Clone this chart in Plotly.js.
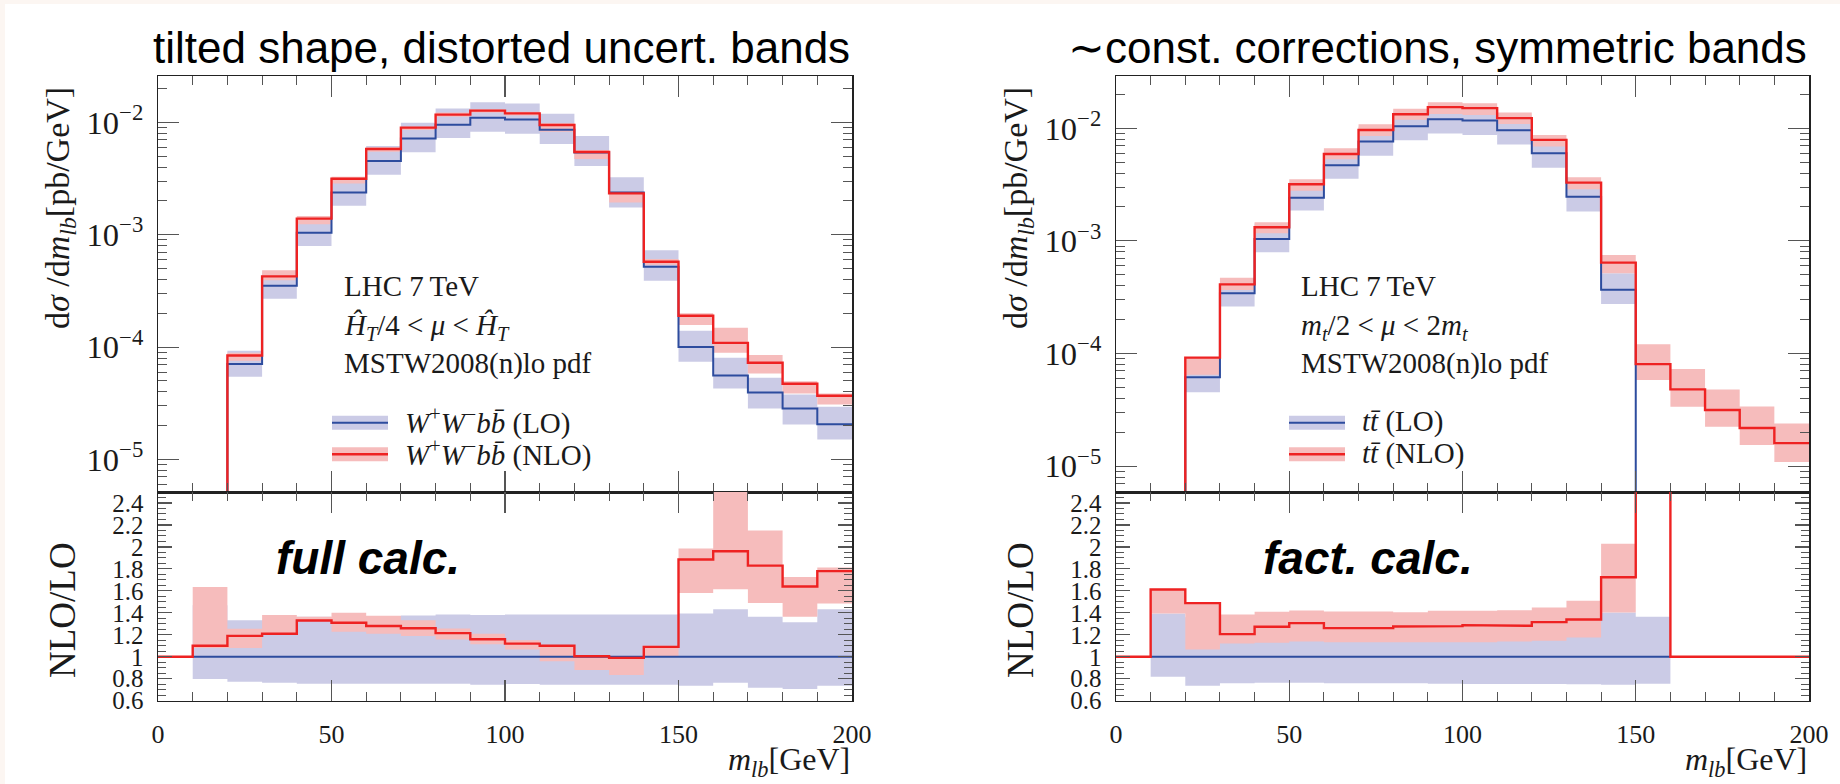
<!DOCTYPE html>
<html>
<head>
<meta charset="utf-8">
<script src="https://cdn.plot.ly/plotly-3.0.1.min.js"></script>
<style>
  html, body { margin: 0; padding: 0; background: #fcf6f2; }
  #sheet { position: absolute; left: 5px; top: 4px; width: 1835px; height: 780px; background: #ffffff; }
  #chart { position: absolute; left: 0; top: 0; width: 1840px; height: 784px; }
</style>
</head>
<body>
<div id="sheet"></div>
<div id="chart"></div>
<script>
// m_lb bin edges [GeV]
const binEdges = [0,10,20,30,40,50,60,70,80,90,100,110,120,130,140,150,160,170,180,190,200];

// ---- W+W- b bbar, full calculation: dsigma/dm_lb [pb/GeV] ----
const wwbbLO      = [0, 2.5e-6, 7.06e-5, 3.52e-4, 1.04e-3, 2.38e-3, 4.53e-3, 7.16e-3, 9.53e-3, 1.10e-2, 1.06e-2, 8.6e-3, 5.4e-3, 2.38e-3, 5.19e-4, 1.0e-4, 5.6e-5, 3.95e-5, 2.84e-5, 2.06e-5];
const wwbbLOLow   = [null, null, 5.44e-5, 2.69e-4, 7.93e-4, 1.81e-3, 3.42e-3, 5.41e-3, 7.26e-3, 8.26e-3, 7.93e-3, 6.41e-3, 4.08e-3, 1.75e-3, 3.90e-4, 7.40e-5, 4.29e-5, 2.84e-5, 2.05e-5, 1.51e-5];
const wwbbLOHigh  = [null, null, 9.28e-5, 4.59e-4, 1.37e-3, 3.07e-3, 6.15e-3, 9.93e-3, 1.33e-2, 1.51e-2, 1.47e-2, 1.19e-2, 7.55e-3, 3.24e-3, 7.26e-4, 1.40e-4, 8.04e-5, 5.33e-5, 3.79e-5, 2.94e-5];
const wwbbNLO     = [0, 2.75e-6, 8.43e-5, 4.26e-4, 1.39e-3, 3.15e-3, 5.79e-3, 8.97e-3, 1.17e-2, 1.27e-2, 1.20e-2, 9.46e-3, 5.45e-3, 2.33e-3, 5.75e-4, 1.90e-4, 1.09e-4, 7.26e-5, 4.72e-5, 3.69e-5];
const wwbbNLOLow  = [null, null, 7.55e-5, 3.94e-4, 1.24e-3, 2.86e-3, 5.48e-3, 8.55e-3, 1.12e-2, 1.22e-2, 1.15e-2, 8.26e-3, 4.72e-3, 1.93e-3, 5.40e-4, 1.57e-4, 8.91e-5, 5.83e-5, 3.87e-5, 3.09e-5];
const wwbbNLOHigh = [null, null, 8.91e-5, 4.84e-4, 1.47e-3, 3.28e-3, 5.99e-3, 9.15e-3, 1.22e-2, 1.31e-2, 1.24e-2, 9.80e-3, 5.68e-3, 2.42e-3, 6.07e-4, 2.00e-4, 1.49e-4, 8.49e-5, 4.98e-5, 3.87e-5];

// NLO/LO for the full calculation
const wwbbRatioLO       = [null, 1,1,1,1,1,1,1,1,1,1,1,1,1,1,1,1,1,1,1];
const wwbbRatioLOLow    = [null, 0.797, 0.773, 0.764, 0.755, 0.755, 0.755, 0.755, 0.755, 0.745, 0.752, 0.745, 0.745, 0.745, 0.745, 0.736, 0.764, 0.718, 0.706, 0.736];
const wwbbRatioLOHigh   = [null, 1.47, 1.333, 1.333, 1.364, 1.36, 1.37, 1.376, 1.385, 1.38, 1.385, 1.385, 1.385, 1.385, 1.385, 1.394, 1.433, 1.364, 1.315, 1.433];
const wwbbRatioNLO      = [1, 1.10, 1.19, 1.21, 1.33, 1.31, 1.28, 1.26, 1.215, 1.16, 1.12, 1.10, 1.005, 0.99, 1.09, 1.885, 1.96, 1.83, 1.64, 1.78];
const wwbbRatioNLOLow   = [null, 1.08, 1.08, 1.21, 1.33, 1.227, 1.21, 1.188, 1.158, 1.115, 1.067, 0.96, 0.88, 0.833, 1.0, 1.58, 1.615, 1.49, 1.364, 1.485];
const wwbbRatioNLOHigh  = [null, 1.636, 1.255, 1.38, 1.364, 1.40, 1.373, 1.333, 1.258, 1.21, 1.15, 1.106, 1.015, 1.0, 1.10, 1.985, 2.7, 2.15, 1.727, 1.812];

// ---- t tbar, factorised calculation: dsigma/dm_lb [pb/GeV] ----
const ttLO      = [0, 3.0e-6, 6.14e-5, 3.42e-4, 1.04e-3, 2.42e-3, 4.69e-3, 7.62e-3, 1.04e-2, 1.20e-2, 1.17e-2, 9.60e-3, 6.0e-3, 2.47e-3, 3.69e-4, 2.0e-6, 0, 0, 0, 0];
const ttLOLow   = [null, null, 4.52e-5, 2.61e-4, 7.91e-4, 1.86e-3, 3.57e-3, 5.71e-3, 7.82e-3, 8.97e-3, 8.73e-3, 7.16e-3, 4.47e-3, 1.82e-3, 2.75e-4, null, null, null, null, null];
const ttLOHigh  = [null, null, 8.34e-5, 4.65e-4, 1.43e-3, 3.29e-3, 6.33e-3, 1.03e-2, 1.41e-2, 1.61e-2, 1.58e-2, 1.30e-2, 8.15e-3, 3.43e-3, 5.15e-4, null, null, null, null, null];
const ttNLO     = [0, 4.8e-6, 9.18e-5, 4.11e-4, 1.32e-3, 3.18e-3, 5.91e-3, 9.66e-3, 1.33e-2, 1.54e-2, 1.51e-2, 1.23e-2, 7.88e-3, 3.29e-3, 6.41e-4, 8.05e-5, 4.80e-5, 3.15e-5, 2.18e-5, 1.60e-5];
const ttNLOLow  = [null, null, 6.49e-5, 3.66e-4, 1.17e-3, 2.79e-3, 5.31e-3, 8.55e-3, 1.19e-2, 1.34e-2, 1.31e-2, 1.09e-2, 6.87e-3, 2.87e-3, 5.15e-4, 5.81e-5, 3.37e-5, 2.24e-5, 1.54e-5, 1.09e-5];
const ttNLOHigh = [null, null, 9.18e-5, 4.71e-4, 1.46e-3, 3.52e-3, 6.64e-3, 1.085e-2, 1.49e-2, 1.70e-2, 1.67e-2, 1.38e-2, 8.73e-3, 3.67e-3, 7.50e-4, 1.21e-4, 7.28e-5, 4.80e-5, 3.38e-5, 2.39e-5];

// NLO/LO for the factorised calculation
const ttRatioLO      = [null, 1,1,1,1,1,1,1,1,1,1,1,1,1,1,1, null, null, null, null];
const ttRatioLOLow   = [null, 0.818, 0.736, 0.758, 0.764, 0.764, 0.758, 0.758, 0.758, 0.755, 0.752, 0.752, 0.752, 0.750, 0.745, 0.755, null, null, null, null];
const ttRatioLOHigh  = [null, 1.394, 1.36, 1.36, 1.36, 1.36, 1.36, 1.36, 1.36, 1.36, 1.36, 1.36, 1.36, 1.36, 1.403, 1.364, null, null, null, null];
const ttRatioNLO     = [1, 1.612, 1.488, 1.206, 1.273, 1.306, 1.261, 1.261, 1.276, 1.279, 1.288, 1.282, 1.315, 1.339, 1.724, 40, 1, 1, 1, 1];
const ttRatioNLOLow  = [null, 1.394, 1.067, 1.121, 1.127, 1.139, 1.133, 1.133, 1.133, 1.133, 1.133, 1.139, 1.145, 1.176, 1.403, null, null, null, null, null];
const ttRatioNLOHigh = [null, 1.612, 1.488, 1.385, 1.409, 1.421, 1.412, 1.412, 1.406, 1.418, 1.418, 1.424, 1.448, 1.509, 2.03, null, null, null, null, null];

// Text
const panelTitles = ['tilted shape, distorted uncert. bands', '\u223Cconst. corrections, symmetric bands'];
const calcLabels  = ['full calc.', 'fact. calc.'];
const infoLines = [
  ['LHC 7\u2009TeV', '<i>\u0124</i><sub><i>T</i></sub>/4 &lt; <i>\u03BC</i> &lt; <i>\u0124</i><sub><i>T</i></sub>', 'MSTW2008(n)lo pdf'],
  ['LHC 7\u2009TeV', '<i>m</i><sub><i>t</i></sub>/2 &lt; <i>\u03BC</i> &lt; 2<i>m</i><sub><i>t</i></sub>', 'MSTW2008(n)lo pdf']
];
const legendNames = [
  ['<i>W</i><sup>+</sup><i>W</i><sup>\u2212</sup><i>b</i><i>b\u0304</i> (LO)', '<i>W</i><sup>+</sup><i>W</i><sup>\u2212</sup><i>b</i><i>b\u0304</i> (NLO)'],
  ['<i>t</i><i>t\u0304</i> (LO)', '<i>t</i><i>t\u0304</i> (NLO)']
];
const yTitleMain  = 'd<i>\u03C3</i> /d<i>m</i><sub><i>lb</i></sub>[pb/GeV]';
const yTitleRatio = 'NLO/LO';
const xTitle      = '<i>m</i><sub><i>lb</i></sub>[GeV]';

// Colours
const C = {
  loLine: '#2d4c9e', nloLine: '#ee2222',
  loBand: '#cbcbe6', nloBand: '#f6bcbc',
  frame: '#222222', tick: '#555555', text: '#1a1a1a'
};

// Figure geometry (paper fractions of the 1840x784 sheet)
const W = 1840, H = 784;
const px = v => v / W;
const py = v => 1 - v / H;
const xDomL = [px(158), px(852)];
const xDomR = [px(1116), px(1809)];
const yDomMain  = [py(492), py(76)];
const yDomRatio = [py(700.7), py(492)];

const FLOOR = 1e-9; // stands in for empty bins on the log axis

function stepLine(vals, onLog) {
  const xs = [], ys = [];
  vals.forEach((v, i) => {
    if (v === null) { xs.push(null); ys.push(null); return; }
    const y = (onLog && v <= 0) ? FLOOR : v;
    xs.push(binEdges[i], binEdges[i + 1]);
    ys.push(y, y);
  });
  return { x: xs, y: ys };
}

function bandShape(lo, hi) {
  const xs = [], ys = [];
  lo.forEach((l, i) => {
    const h = hi[i];
    if (l === null || h === null) return;
    const a = binEdges[i], b = binEdges[i + 1];
    xs.push(a, b, b, a, a, null);
    ys.push(l, l, h, h, l, null);
  });
  return { x: xs, y: ys };
}

function band(lo, hi, color, xa, ya) {
  const s = bandShape(lo, hi);
  return { type: 'scatter', mode: 'lines', x: s.x, y: s.y, xaxis: xa, yaxis: ya,
           fill: 'toself', fillcolor: color, line: { width: 0, color: color },
           hoverinfo: 'skip', showlegend: false };
}

function line(vals, color, width, xa, ya, onLog) {
  const s = stepLine(vals, onLog);
  return { type: 'scatter', mode: 'lines', x: s.x, y: s.y, xaxis: xa, yaxis: ya,
           line: { color: color, width: width }, connectgaps: false,
           hoverinfo: 'skip', showlegend: false };
}

const traces = [
  // left, main
  band(wwbbLOLow, wwbbLOHigh, C.loBand, 'x', 'y'),
  band(wwbbNLOLow, wwbbNLOHigh, C.nloBand, 'x', 'y'),
  line(wwbbLO, C.loLine, 2, 'x', 'y', true),
  line(wwbbNLO, C.nloLine, 2.4, 'x', 'y', true),
  // left, ratio
  band(wwbbRatioLOLow, wwbbRatioLOHigh, C.loBand, 'x2', 'y2'),
  band(wwbbRatioNLOLow, wwbbRatioNLOHigh, C.nloBand, 'x2', 'y2'),
  line(wwbbRatioLO, C.loLine, 2, 'x2', 'y2', false),
  line(wwbbRatioNLO, C.nloLine, 2.4, 'x2', 'y2', false),
  // right, main
  band(ttLOLow, ttLOHigh, C.loBand, 'x3', 'y3'),
  band(ttNLOLow, ttNLOHigh, C.nloBand, 'x3', 'y3'),
  line(ttLO, C.loLine, 2, 'x3', 'y3', true),
  line(ttNLO, C.nloLine, 2.4, 'x3', 'y3', true),
  // right, ratio
  band(ttRatioLOLow, ttRatioLOHigh, C.loBand, 'x4', 'y4'),
  band(ttRatioNLOLow, ttRatioNLOHigh, C.nloBand, 'x4', 'y4'),
  line(ttRatioLO, C.loLine, 2, 'x4', 'y4', false),
  line(ttRatioNLO, C.nloLine, 2.4, 'x4', 'y4', false)
];

const tickFont = { family: 'Liberation Serif, serif', size: 26, color: C.text };

function frameAxis(extra) {
  return Object.assign({
    showline: true, linecolor: C.frame, linewidth: 1.5, mirror: 'ticks',
    ticks: 'inside', ticklen: 21, tickwidth: 1.2, tickcolor: C.tick,
    showgrid: false, zeroline: false, automargin: false, fixedrange: true,
    tickfont: tickFont
  }, extra);
}

function xAxis(domain, anchor, labels) {
  return frameAxis({
    domain: domain, anchor: anchor, range: [0, 200], tick0: 0, dtick: 50,
    showticklabels: labels, ticklabelstandoff: 10,
    minor: { ticks: 'inside', ticklen: 9, tickwidth: 1, tickcolor: C.tick, dtick: 10, showgrid: false }
  });
}

function yLog(domain, anchor, range) {
  return frameAxis({
    domain: domain, anchor: anchor, type: 'log', range: range, dtick: 1,
    exponentformat: 'power', showexponent: 'all', ticklabelstandoff: 8,
    minor: { ticks: 'inside', ticklen: 9, tickwidth: 1, tickcolor: C.tick, dtick: 'D1', showgrid: false }
  });
}

function yRatio(domain, anchor) {
  return frameAxis({
    domain: domain, anchor: anchor, range: [0.6, 2.5], tick0: 0, dtick: 0.2,
    ticklen: 14, ticklabelstandoff: 8,
    tickfont: { family: 'Liberation Serif, serif', size: 25, color: C.text },
    minor: { ticks: 'inside', ticklen: 8, tickwidth: 1, tickcolor: C.tick, dtick: 0.05, showgrid: false }
  });
}

const serif = 'Liberation Serif, serif';
const annotations = [];
const shapes = [];

function addText(text, x, y, opts) {
  annotations.push(Object.assign({
    text: text, x: px(x), y: py(y), xref: 'paper', yref: 'paper',
    showarrow: false, xanchor: 'left', yanchor: 'middle',
    font: { family: serif, size: 29, color: C.text }
  }, opts || {}));
}

const panels = [
  { left: 158, right: 852, info: 342, legLine: [332, 388], legText: 403 },
  { left: 1116, right: 1809, info: 1299, legLine: [1289, 1345], legText: 1360 }
];

panels.forEach((p, k) => {
  // panel title
  addText(panelTitles[k], p.right, 47, { xanchor: 'right',
    font: { family: 'Liberation Sans, Arial, sans-serif', size: 44, color: '#000' } });
  // axis titles
  addText(yTitleMain, p.left - 98, 208, { xanchor: 'center', textangle: -90,
    font: { family: serif, size: 34, color: C.text } });
  addText(yTitleRatio, p.left - 96, 610, { xanchor: 'center', textangle: -90,
    font: { family: serif, size: 37, color: C.text } });
  addText(xTitle, p.right, 761, { xanchor: 'right',
    font: { family: serif, size: 32, color: C.text } });
  // info block
  infoLines[k].forEach((t, j) => addText(t, p.info, [286, 327, 363][j]));
  // legend
  [[C.loBand, C.loLine, 422.7], [C.nloBand, C.nloLine, 454.3]].forEach((row, j) => {
    shapes.push({ type: 'rect', xref: 'paper', yref: 'paper',
      x0: px(p.legLine[0]), x1: px(p.legLine[1]), y0: py(row[2] - 7), y1: py(row[2] + 7),
      fillcolor: row[0], line: { width: 0 } });
    shapes.push({ type: 'line', xref: 'paper', yref: 'paper',
      x0: px(p.legLine[0]), x1: px(p.legLine[1]), y0: py(row[2]), y1: py(row[2]),
      line: { color: row[1], width: j === 0 ? 2 : 2.4 } });
    addText(legendNames[k][j], p.legText, row[2] - 1);
  });
  // calculation tag in the ratio pad
  addText(calcLabels[k], [274, 1261][k], 558, {
    font: { family: 'Liberation Sans, Arial, sans-serif', size: 46, color: '#000', weight: 'bold', style: 'italic' } });
});

const layout = {
  width: W, height: H,
  margin: { l: 0, r: 0, t: 0, b: 0 },
  paper_bgcolor: 'rgba(0,0,0,0)', plot_bgcolor: 'rgba(0,0,0,0)',
  showlegend: false,
  xaxis:  xAxis(xDomL, 'y', false),
  xaxis2: xAxis(xDomL, 'y2', true),
  xaxis3: xAxis(xDomR, 'y3', false),
  xaxis4: xAxis(xDomR, 'y4', true),
  yaxis:  yLog(yDomMain, 'x', [-5.289, -1.588]),
  yaxis2: yRatio(yDomRatio, 'x2'),
  yaxis3: yLog(yDomMain, 'x3', [-5.230, -1.536]),
  yaxis4: yRatio(yDomRatio, 'x4'),
  annotations: annotations,
  shapes: shapes
};

Plotly.newPlot('chart', traces, layout, { staticPlot: true, displayModeBar: false });
</script>
</body>
</html>
